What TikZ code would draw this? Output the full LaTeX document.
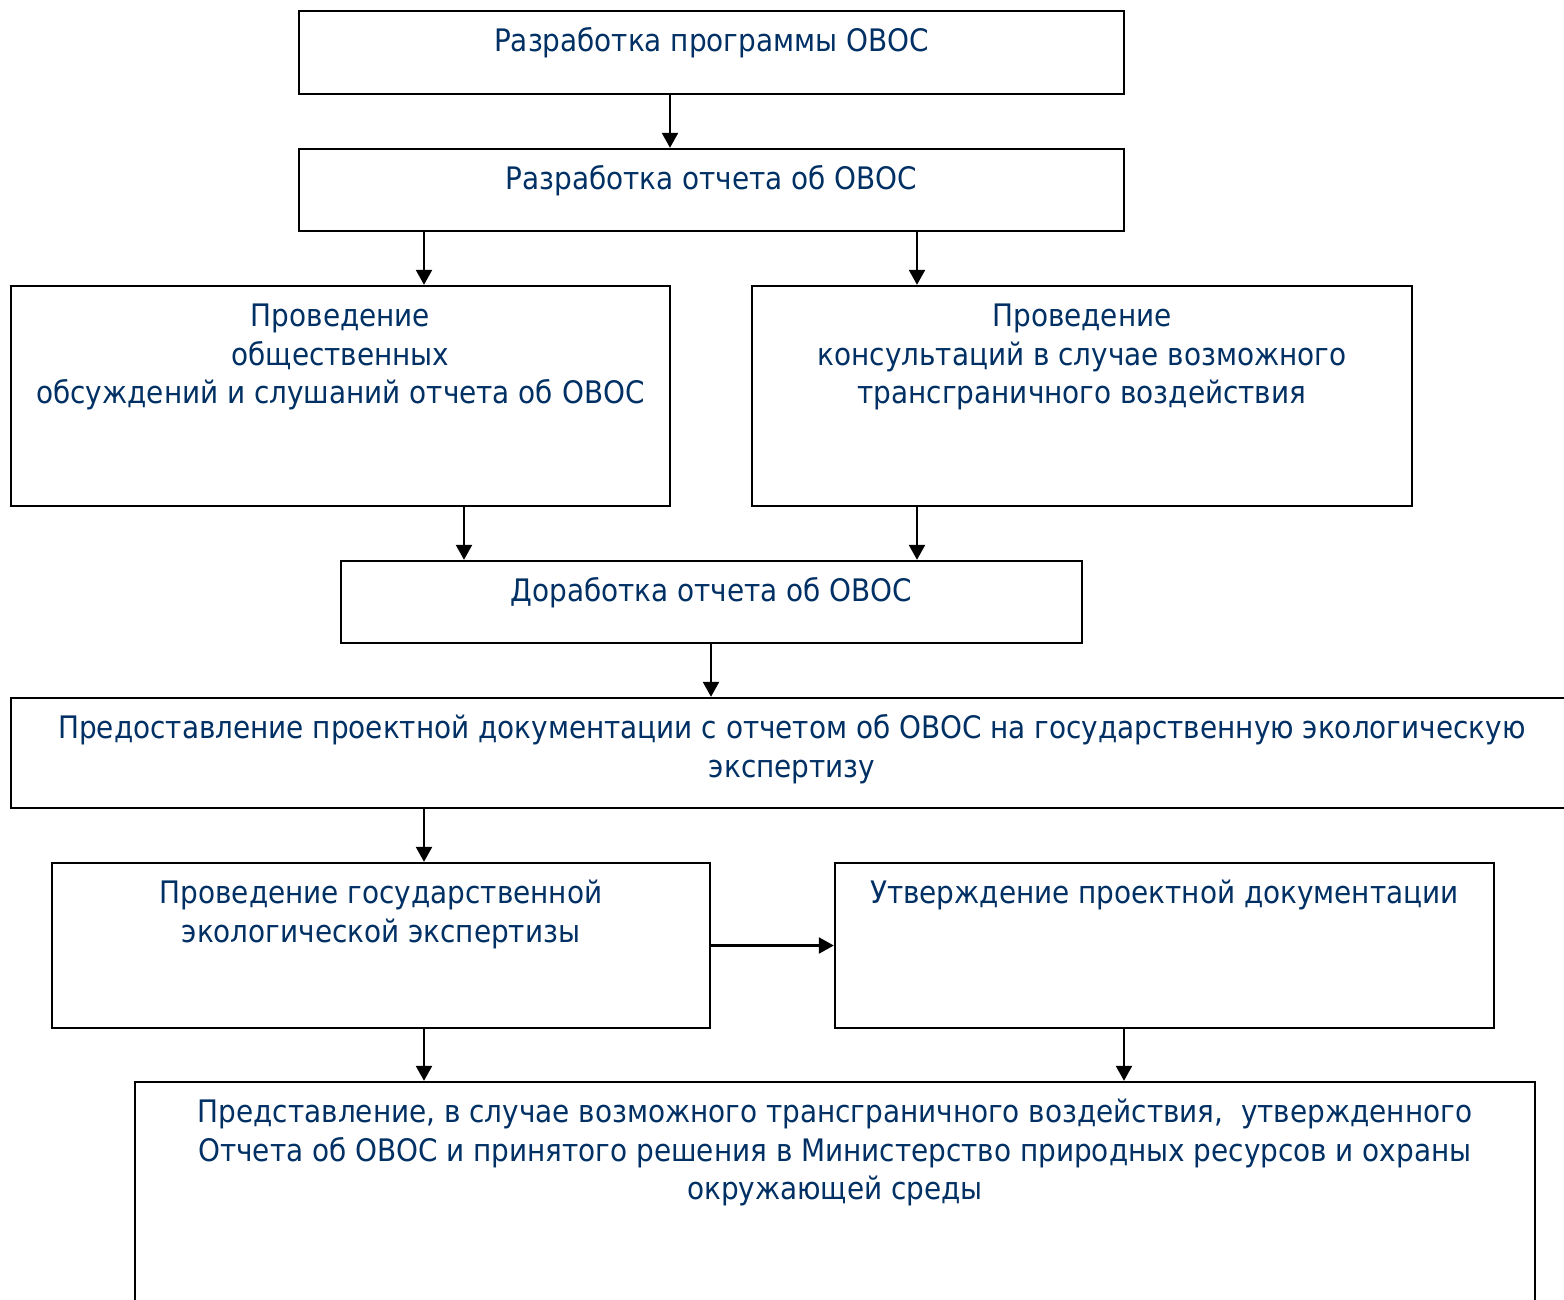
\documentclass[tikz,border=0pt]{standalone}
\usepackage{fontspec}
\setmainfont{DejaVu Sans Condensed}
\usetikzlibrary{arrows.meta}
\definecolor{txt}{RGB}{0,48,100}
\begin{document}
\begin{tikzpicture}[x=1pt,y=-1pt,
  box/.style={draw=black, line width=2.4pt, fill=white, inner sep=0pt},
  lbl/.style={anchor=north, inner sep=0pt, align=center, text=txt,
    font=\fontsize{31}{38.5}\selectfont, yshift=-15pt},
  arr/.style={line width=2.4pt, -{Triangle[width=16pt,length=15pt]}}]
\useasboundingbox (0,0) rectangle (1564,1299);
\clip (0,0) rectangle (1564,1299);
\node[box, minimum width=825pt, minimum height=83pt] (b1) at (711.5,52.5) {};
\node[box, minimum width=825pt, minimum height=82pt] (b2) at (711.5,190) {};
\node[box, minimum width=659pt, minimum height=220pt] (b3) at (340.5,396) {};
\node[box, minimum width=660pt, minimum height=220pt] (b4) at (1082,396) {};
\node[box, minimum width=741pt, minimum height=82pt] (b5) at (711.5,602) {};
\node[box, minimum width=1562pt, minimum height=110pt] (b6) at (792,753) {};
\node[box, minimum width=658pt, minimum height=165pt] (b7) at (381,945.5) {};
\node[box, minimum width=659pt, minimum height=165pt] (b8) at (1164.5,945.5) {};
\node[box, minimum width=1400pt, minimum height=248pt] (b9) at (835,1206) {};
\node[lbl] (t1) at (b1.north) {\strut Разработка программы ОВОС};
\node[lbl] (t2) at (b2.north) {\strut Разработка отчета об ОВОС};
\node[lbl] (t3) at (b3.north) {\strut Проведение\\\strut общественных\\\strut обсуждений и слушаний отчета об ОВОС};
\node[lbl] (t4) at (b4.north) {\strut Проведение\\\strut консультаций в случае возможного\\\strut трансграничного воздействия};
\node[lbl] (t5) at (b5.north) {\strut Доработка отчета об ОВОС};
\node[lbl] (t6) at (b6.north) {\strut Предоставление проектной документации с отчетом об ОВОС на государственную экологическую\\\strut экспертизу};
\node[lbl] (t7) at (b7.north) {\strut Проведение государственной\\\strut экологической экспертизы};
\node[lbl] (t8) at (b8.north) {\strut Утверждение проектной документации};
\node[lbl] (t9) at (b9.north) {\strut Представление, в случае возможного трансграничного воздействия,\ \ утвержденного\\\strut Отчета об ОВОС и принятого решения в Министерство природных ресурсов и охраны\\\strut окружающей среды};
\coordinate (xa) at (670,0);
\coordinate (xb) at (424,0);
\coordinate (xc) at (917,0);
\coordinate (xd) at (464,0);
\coordinate (xe) at (711,0);
\coordinate (xf) at (1124,0);
\draw[arr] (b1.south -| xa) -- (b2.north -| xa);
\draw[arr] (b2.south -| xb) -- (b3.north -| xb);
\draw[arr] (b2.south -| xc) -- (b4.north -| xc);
\draw[arr] (b3.south -| xd) -- (b5.north -| xd);
\draw[arr] (b4.south -| xc) -- (b5.north -| xc);
\draw[arr] (b5.south -| xe) -- (b6.north -| xe);
\draw[arr] (b6.south -| xb) -- (b7.north -| xb);
\draw[arr] (b7.east) -- (b8.west);
\draw[arr] (b7.south -| xb) -- (b9.north -| xb);
\draw[arr] (b8.south -| xf) -- (b9.north -| xf);
\end{tikzpicture}
\end{document}
